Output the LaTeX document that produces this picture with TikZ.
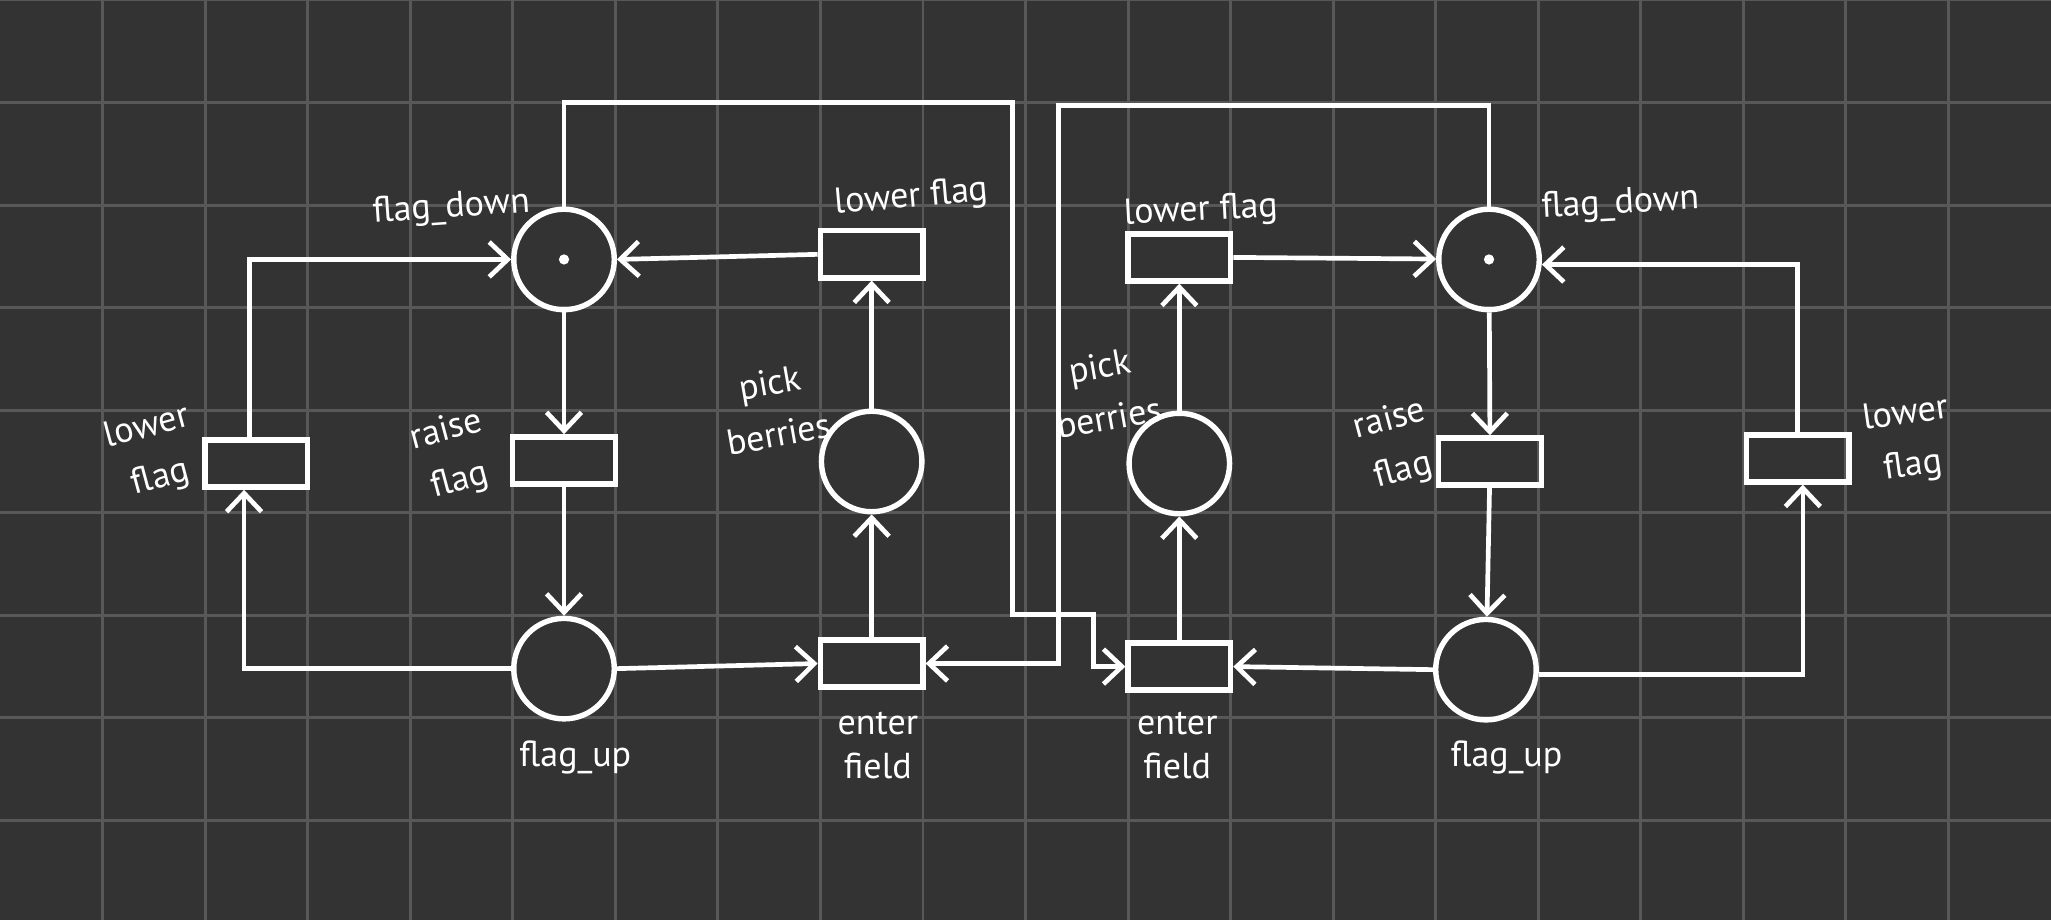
\documentclass[tikz,border=0pt]{standalone}
\usepackage{fontspec}
\setmainfont{PT Sans}
\usetikzlibrary{arrows.meta, positioning}
\definecolor{bgDark}{HTML}{333333}
\definecolor{gridGray}{HTML}{585858}

\begin{document}
\begin{tikzpicture}[
    pPlace/.style={circle, draw=white, line width=1.5pt, minimum size=0.98cm, inner sep=0pt},
    pTrans/.style={rectangle, draw=white, line width=1.5pt, minimum width=1cm, minimum height=0.46cm, inner sep=0pt},
    pArc/.style={draw=white, line width=1.3pt, -{Straight Barb[length=1.8mm, width=3.4mm]}},
    pLabel/.style={text=white, font=\fontsize{10}{12}\selectfont, align=center, inner sep=0pt},
    pTall/.style={pLabel, font=\fontsize{10}{14.5}\selectfont}
  ]
    \useasboundingbox (0,0) rectangle (20,-8.97);
    \fill[bgDark] (0,0) rectangle (20,-8.97);
    \foreach \x in {1,...,19} \draw[gridGray, line width=0.8pt] (\x,0) -- (\x,-8.97);
    \foreach \y in {0,...,8} \draw[gridGray, line width=0.8pt] (0,-\y) -- (20,-\y);

    % left net
    \node[pPlace] (lDown) at (5.5,-2.53) {};
    \node[pTrans] (lRaise) at (5.5,-4.49) {};
    \node[pPlace] (lUp) at (5.5,-6.52) {};
    \node[pTrans] (lLowerL) at (2.5,-4.52) {};
    \node[pTrans] (lLowerR) at (8.5,-2.48) {};
    \node[pPlace] (lPick) at (8.5,-4.5) {};
    \node[pTrans] (lEnter) at (8.5,-6.47) {};
    % right net
    \node[pTrans] (rLowerL) at (11.5,-2.51) {};
    \node[pPlace] (rPick) at (11.5,-4.52) {};
    \node[pTrans] (rEnter) at (11.5,-6.5) {};
    \node[pPlace] (rDown) at (14.52,-2.53) {};
    \node[pTrans] (rRaise) at (14.53,-4.5) {};
    \node[pPlace] (rUp) at (14.49,-6.53) {};
    \node[pTrans] (rLowerR) at (17.53,-4.47) {};

    % tokens
    \fill[white] (lDown) circle (0.05);
    \fill[white] (rDown) circle (0.05);

    % bends of the long arcs
    \coordinate (topL) at (9.87,-1.0);
    \coordinate (stepL) at (10.66,-5.99);
    \coordinate (topR) at (10.32,-1.03);

    \draw[pArc] ([xshift=-0.7mm]lLowerL.north) |- (lDown.west);
    \draw[pArc] (lUp.west) -| ([xshift=-1.2mm]lLowerL.south);
    \draw[pArc] (lDown) -- (lRaise);
    \draw[pArc] (lRaise) -- (lUp);
    \draw[pArc] (lLowerR.west) -- (lDown.east);
    \draw[pArc] (lPick) -- (lLowerR);
    \draw[pArc] (lEnter) -- (lPick);
    \draw[pArc] (lUp.east) -- (lEnter.west);
    \draw[pArc] (lDown.north) |- (topL) |- (stepL) |- (rEnter.west);
    \draw[pArc] (rDown.north) |- (topR) |- (lEnter.east);

    \draw[pArc] (rLowerL.east) -- (rDown);
    \draw[pArc] (rPick) -- (rLowerL);
    \draw[pArc] (rEnter) -- (rPick);
    \draw[pArc] (rUp.west) -- (rEnter.east);
    \draw[pArc] (rDown) -- (rRaise);
    \draw[pArc] (rRaise) -- (rUp);
    \draw[pArc] ([yshift=-0.5mm]rUp.east) -| ([xshift=0.5mm]rLowerR.south);
    \draw[pArc] (rLowerR.north) |- ([yshift=-0.5mm]rDown.east);

    % labels
    \node[pLabel, rotate=4] (lDownLab) at (4.4,-2.03) {flag\_down};
    \node[pTall, rotate=15] (lLowerLLab) at (1.5,-4.42) {lower\\flag};
    \node[pTall, rotate=15] (lRaiseLab) at (4.42,-4.45) {raise\\flag};
    \node[pLabel, rotate=5] (lLowerRLab) at (8.89,-1.93) {lower flag};
    \node[pTall, rotate=10] (lPickLab) at (7.55,-3.98) {pick\\berries};
    \node[pLabel] (lUpLab) at (5.61,-7.39) {flag\_up};
    \node[pLabel] (lEnterLab) at (8.56,-7.27) {enter\\field};
    \node[pLabel, rotate=3] (rLowerLLab) at (11.71,-2.06) {lower flag};
    \node[pLabel, rotate=3] (rDownLab) at (15.8,-1.99) {flag\_down};
    \node[pTall, rotate=10] (rPickLab) at (10.77,-3.82) {pick\\berries};
    \node[pTall, rotate=15] (rRaiseLab) at (13.62,-4.35) {raise\\flag};
    \node[pTall, rotate=8] (rLowerRLab) at (18.62,-4.3) {lower\\flag};
    \node[pLabel] (rUpLab) at (14.69,-7.39) {flag\_up};
    \node[pLabel] (rEnterLab) at (11.48,-7.27) {enter\\field};
  \end{tikzpicture}
\end{document}
